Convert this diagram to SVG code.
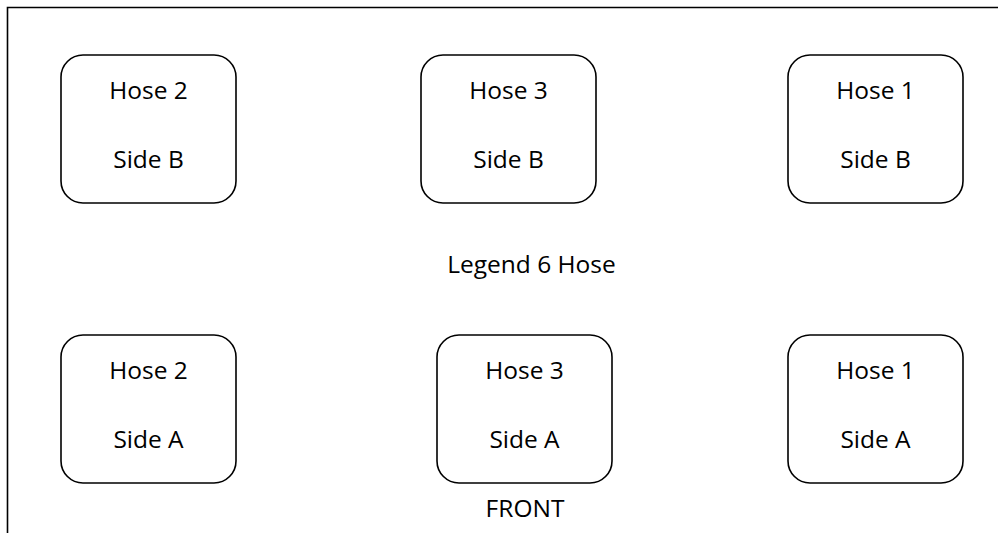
<svg xmlns="http://www.w3.org/2000/svg" width="1008" height="533" viewBox="0 0 1008 533">
<style>
.box{fill:#fff;stroke:#000;stroke-width:1.6}
.frame{fill:none;stroke:#000;stroke-width:1.6}
text{font-family:"Open Sans","Liberation Sans",Arial,sans-serif;font-size:24.5px;fill:#000;text-anchor:middle}
</style>
<rect width="1008" height="533" fill="#fff"/>
<path class="frame" d="M7.5,533 V7.5 H998"/>
<g id="hose2-sideB"><rect class="box" x="61" y="55" width="175" height="148" rx="22"/><text x="148.5" y="99">Hose 2</text><text x="148.5" y="168">Side B</text></g>
<g id="hose3-sideB"><rect class="box" x="421" y="55" width="175" height="148" rx="22"/><text x="508.5" y="99">Hose 3</text><text x="508.5" y="168">Side B</text></g>
<g id="hose1-sideB"><rect class="box" x="788" y="55" width="175" height="148" rx="22"/><text x="875.5" y="99">Hose 1</text><text x="875.5" y="168">Side B</text></g>
<g id="legend"><text x="531.5" y="273">Legend 6 Hose</text></g>
<g id="hose2-sideA"><rect class="box" x="61" y="335" width="175" height="148" rx="22"/><text x="148.5" y="379">Hose 2</text><text x="148.5" y="448">Side A</text></g>
<g id="hose3-sideA"><rect class="box" x="437" y="335" width="175" height="148" rx="22"/><text x="524.5" y="379">Hose 3</text><text x="524.5" y="448">Side A</text></g>
<g id="hose1-sideA"><rect class="box" x="788" y="335" width="175" height="148" rx="22"/><text x="875.5" y="379">Hose 1</text><text x="875.5" y="448">Side A</text></g>
<g id="front"><text x="525" y="517">FRONT</text></g>
<g id="connectors"></g>
</svg>
